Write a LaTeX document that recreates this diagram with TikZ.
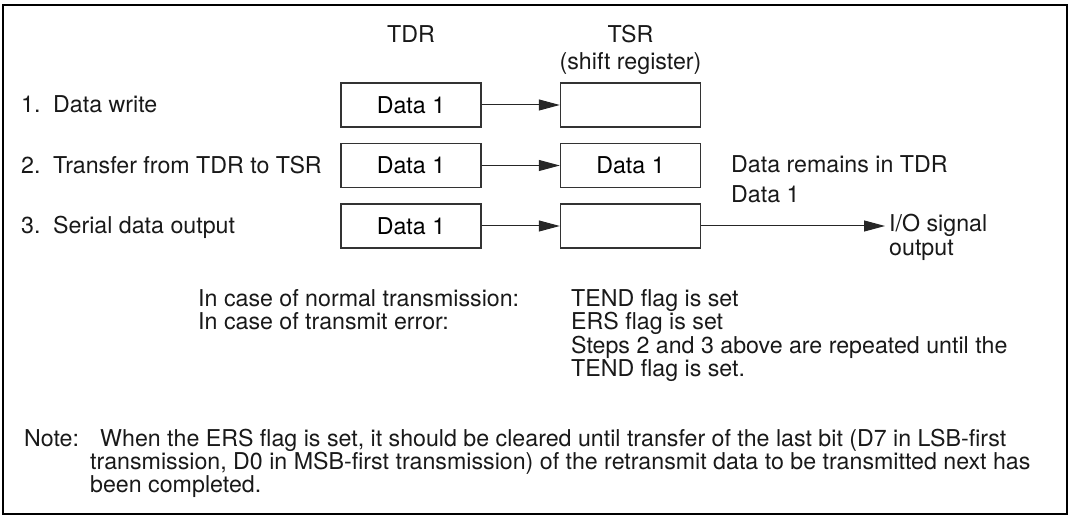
\documentclass[tikz,border=0pt]{standalone}
\usepackage{fontspec}
\setmainfont{TeX Gyre Heros}
\usetikzlibrary{arrows.meta,positioning}
\tikzset{
  xferarr/.style={-{Triangle[length=21pt,width=11pt]}, line width=1pt, draw=black!85},
  regbox/.style={draw=black!80, line width=1.4pt, minimum width=140pt, minimum height=44pt, inner sep=0pt},
  txt/.style={anchor=base west, inner sep=0pt, text=black!90},
}
\begin{document}
\begin{tikzpicture}[
  x=1pt, y=-1pt,
  font=\fontsize{23.2}{23.2}\selectfont,
  hd/.style={anchor=base, inner sep=0pt, text=black!90},
]
  \useasboundingbox (0,0) rectangle (1073,518);
  \draw[line width=2.5pt] (3,5) rectangle (1067,514);

  % register headers
  \node[hd] (tdrhd) at (411,43) {TDR};
  \node[hd] (tsrhd) at (630.5,43) {TSR};
  \node[hd] (tsrsub) at (630.5,70) {(shift register)};

  % the three steps
  \foreach \i/\y/\step/\reg in {1/105/Data write/{},
      2/165.5/Transfer from TDR to TSR/Data 1,
      3/226/Serial data output/{}} {
    \node[txt] (num\i) at (21,{\y+8}) {\i.};
    \node[txt] (step\i) at (53,{\y+8}) {\step};
    \node[regbox] (tdr\i) at (411,\y) {Data 1};
    \node[regbox] (tsr\i) at (630.5,\y) {\reg};
    \draw[xferarr] (tdr\i) -- (tsr\i);
  }

  \node[txt] (remain) at (731,173) {Data remains in TDR};
  \node[txt] (remdata) at (731,203) {Data 1};

  \coordinate (iotip) at (885,226);
  \draw[xferarr] (tsr3) -- (iotip);
  \node[txt] (io1) at (889,232) {I/O signal};
  \node[txt] (io2) at (889,256) {output};

  % flags
  \node[txt] (normal) at (198,307) {In case of normal transmission:};
  \node[txt] (error) at (198,330) {In case of transmit error:};
  \node[txt] (tend) at (571,307) {TEND flag is set};
  \node[txt] (ers) at (571,330) {ERS flag is set};
  \node[txt] (rep1) at (571,353) {Steps 2 and 3 above are repeated until the};
  \node[txt] (rep2) at (571,376) {TEND flag is set.};

  % note
  \node[txt] (note) at (24,446) {Note:};
  \node[txt] (note1) at (100,446) {When the ERS flag is set, it should be cleared until transfer of the last bit (D7 in LSB-first};
  \node[txt] (note2) at (90,469) {transmission, D0 in MSB-first transmission) of the retransmit data to be transmitted next has};
  \node[txt] (note3) at (90,492) {been completed.};
\end{tikzpicture}
\end{document}
